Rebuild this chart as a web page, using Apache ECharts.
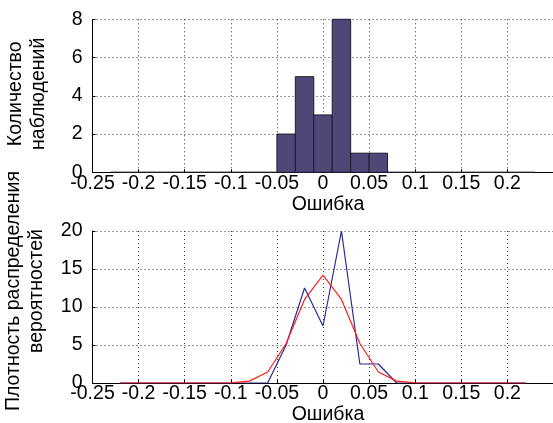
<!DOCTYPE html>
<html><head><meta charset="utf-8">
<script src="https://cdn.jsdelivr.net/npm/echarts@6/dist/echarts.min.js"></script>
<style>html,body{margin:0;padding:0;background:#fff}#c{width:553px;height:423px}</style>
</head><body><div id="c"></div>
<script>
const binCenters = [-0.22,-0.2,-0.18,-0.16,-0.14,-0.12,-0.1,-0.08,-0.06,-0.04,-0.02,0,0.02,0.04,0.06,0.08,0.1,0.12,0.14,0.16,0.18,0.2,0.22];
const binWidth = 0.02;
const counts =  [0,0,0,0,0,0,0,0,0,2,5,3,8,1,1,0,0,0,0,0,0,0,0];
const density = [0,0,0,0,0,0,0,0,0,5,12.5,7.5,20,2.5,2.5,0,0,0,0,0,0,0,0];
const normalFit=[0,0,0,0,0,0,0.02,0.25,1.45,5.2,11.0,14.2,11.0,5.2,1.45,0.25,0.02,0,0,0,0,0,0];
const xLabel = 'Ошибка';
const yLabelTop = 'Количество\nнаблюдений';
const yLabelBottom = 'Плотность распределения\nвероятностей';

const FONT = 'Liberation Sans, Arial, sans-serif';
const FS = 19.5;
const gridLine = {show:true, lineStyle:{color:'#333', width:1, type:[1,3]}};
function xAx(gi){
  return {type:'value', gridIndex:gi, min:-0.25, max:0.25, interval:0.05,
    axisLine:{onZero:false, lineStyle:{color:'#000', width:1}},
    axisTick:{inside:true, length:3, lineStyle:{color:'#000'}},
    axisLabel:{color:'#000', fontSize:FS, fontFamily:FONT, margin:1, showMaxLabel:false,
      formatter:v=>String(Math.round(v*100)/100)},
    splitLine:gridLine,
    name:xLabel, nameLocation:'middle', nameGap:21,
    nameTextStyle:{color:'#000', fontSize:FS, fontFamily:FONT, padding:[0,0,0,10]}};
}
function yAx(gi,max,intv,name,shift,gap){
  return {type:'value', gridIndex:gi, min:0, max:max, interval:intv,
    axisLine:{show:true, onZero:false, lineStyle:{color:'#000', width:1}},
    axisTick:{show:true, inside:true, length:3, lineStyle:{color:'#000'}},
    axisLabel:{color:'#000', fontSize:FS, fontFamily:FONT, margin:10},
    splitLine:gridLine,
    name:name, nameLocation:'middle', nameRotate:90, nameGap:gap,
    nameTextStyle:{color:'#000', fontSize:FS, fontFamily:FONT, lineHeight:23, padding:[0,0,0,shift]}};
}
const hist = binCenters.map((c,i)=>[c,counts[i]]);
const chart = echarts.init(document.getElementById('c'), null, {renderer:'canvas'});
chart.setOption({
  animation:false,
  grid:[{left:92.5, top:19.3, width:461, height:153, outerBoundsMode:'none', containLabel:false},
        {left:92.5, top:231, width:461, height:152, outerBoundsMode:'none', containLabel:false}],
  xAxis:[xAx(0), xAx(1)],
  yAxis:[yAx(0,8,2,yLabelTop,4,42), yAx(1,20,5,yLabelBottom,32,44)],
  series:[
    {type:'custom', xAxisIndex:0, yAxisIndex:0, data:hist,
     renderItem:(params, api)=>{
       const c = api.value(0), n = api.value(1);
       const p0 = api.coord([c-binWidth/2, n]);
       const p1 = api.coord([c+binWidth/2, 0]);
       return {type:'rect', shape:{x:p0[0], y:p0[1], width:p1[0]-p0[0], height:p1[1]-p0[1]},
         style:{fill:'#4d4878', stroke:'#1c1c2c', lineWidth:1}};
     }},
    {type:'line', xAxisIndex:1, yAxisIndex:1, data:binCenters.map((c,i)=>[c,density[i]]),
     showSymbol:false, lineStyle:{color:'#2b2b95', width:1.2}},
    {type:'line', xAxisIndex:1, yAxisIndex:1, data:binCenters.map((c,i)=>[c,normalFit[i]]),
     showSymbol:false, lineStyle:{color:'#ff1f1f', width:1.2}}
  ]
});
</script></body></html>
